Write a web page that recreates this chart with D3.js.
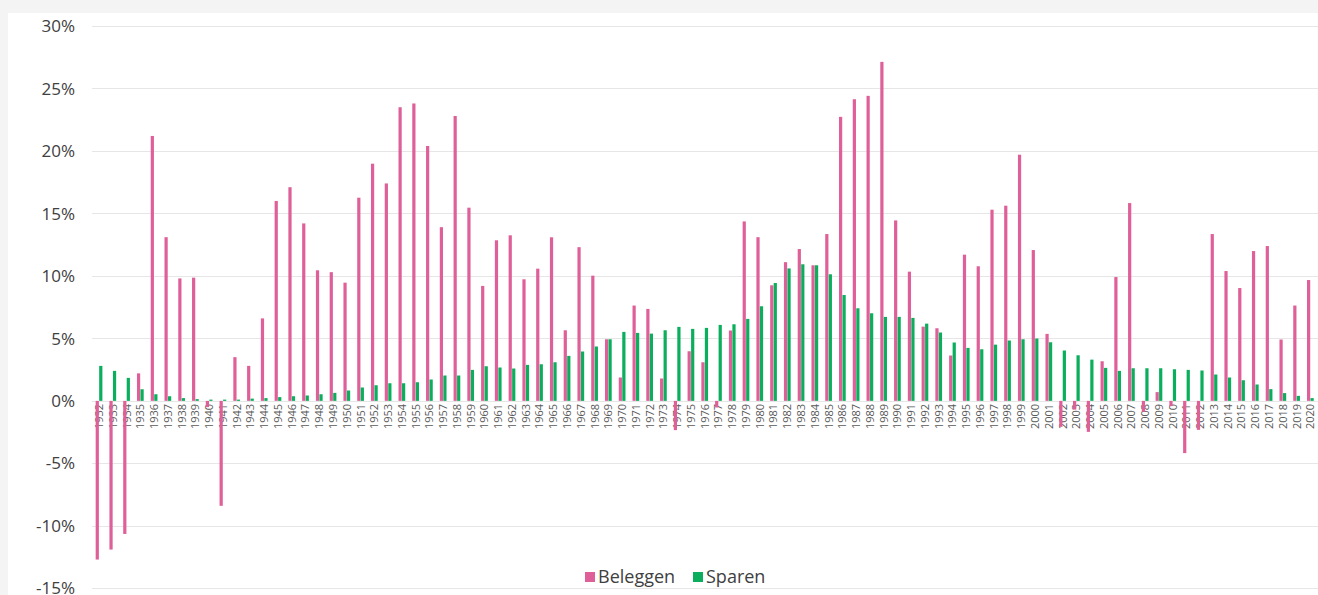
<html>
<head>
<meta charset="utf-8">
<style>
  body { margin: 0; background: #f4f4f4; }
  .grid line { stroke: #e6e6e6; stroke-width: 1px; }
  .ylab { font: 17px "Open Sans", sans-serif; fill: #404040; }
  .xlab { font: 11px "Open Sans", sans-serif; fill: #595959; }
  .leg { font: 18px "Open Sans", sans-serif; fill: #404040; }
</style>
</head>
<body>
<script src="https://cdn.jsdelivr.net/npm/d3@7"></script>
<script>
var years = d3.range(1932, 2021);
var series = ["Beleggen", "Sparen"];
var colors = ["#df6098", "#0aae5c"];
var yTicks = [-15, -10, -5, 0, 5, 10, 15, 20, 25, 30];

// rendement per jaar in %
var beleggen = [
  -12.7, -11.9, -10.65, 2.2, 21.2, 13.1, 9.8, 9.86, -0.5, -8.4,
  3.5, 2.8, 6.6, 16.0, 17.1, 14.2, 10.45, 10.3, 9.46, 16.26,
  18.98, 17.4, 23.5, 23.8, 20.4, 13.9, 22.8, 15.46, 9.2, 12.85,
  13.25, 9.73, 10.58, 13.09, 5.65, 12.3, 10.02, 4.93, 1.87, 7.63,
  7.36, 1.79, -2.34, 3.97, 3.09, -0.53, 5.63, 14.36, 13.1, 9.25,
  11.1, 12.15, 10.85, 13.35, 22.73, 24.14, 24.41, 27.13, 14.44, 10.34,
  5.94, 5.81, 3.63, 11.7, 10.77, 15.3, 15.62, 19.7, 12.07, 5.36,
  -2.08, -0.7, -2.48, 3.17, 9.91, 15.83, -0.88, 0.7, -0.42, -4.18,
  -2.32, 13.35, 10.39, 9.03, 11.99, 12.39, 4.91, 7.63, 9.67
];
var sparen = [
  2.8, 2.4, 1.84, 0.93, 0.53, 0.37, 0.22, 0.14, 0.1, 0.1,
  0.1, 0.18, 0.22, 0.3, 0.37, 0.43, 0.53, 0.64, 0.83, 1.07,
  1.25, 1.41, 1.41, 1.49, 1.71, 2.03, 2.03, 2.48, 2.77, 2.67,
  2.59, 2.88, 2.93, 3.09, 3.6, 3.95, 4.35, 4.93, 5.52, 5.44,
  5.38, 5.65, 5.92, 5.76, 5.84, 6.08, 6.13, 6.56, 7.57, 9.43,
  10.6, 10.93, 10.85, 10.13, 8.47, 7.41, 7.01, 6.72, 6.72, 6.64,
  6.18, 5.47, 4.67, 4.24, 4.13, 4.5, 4.83, 4.93, 4.99, 4.69,
  4.03, 3.65, 3.3, 2.64, 2.4, 2.61, 2.61, 2.61, 2.53, 2.48,
  2.43, 2.11, 1.87, 1.65, 1.31, 0.94, 0.62, 0.4, 0.22
];

var width = 1318, height = 595;
var svg = d3.select("body").append("svg")
    .attr("width", width)
    .attr("height", height)
    .style("display", "block");

// wit paneel
svg.append("rect")
    .attr("x", 8).attr("y", 13)
    .attr("width", width - 8).attr("height", height - 13)
    .attr("fill", "white");

var x = d3.scaleBand().domain(years).range([92.3, 1317.4])
    .paddingInner(0.49).paddingOuter(0.245);
var x1 = d3.scaleBand().domain(series).range([0, x.bandwidth()]);
var y = d3.scaleLinear().domain([-15, 30]).range([588.3, 26]);

svg.append("g").attr("class", "grid")
  .selectAll("line")
  .data(yTicks)
  .join("line")
    .attr("x1", 92).attr("x2", width)
    .attr("y1", d => Math.round(y(d)) + 0.5)
    .attr("y2", d => Math.round(y(d)) + 0.5);

svg.append("g")
  .selectAll("text")
  .data(yTicks)
  .join("text")
    .attr("class", "ylab")
    .attr("x", 75)
    .attr("y", d => y(d))
    .attr("dy", "0.36em")
    .attr("text-anchor", "end")
    .text(d => d + "%");

// jaartallen onder de nullijn
svg.append("g")
  .selectAll("text")
  .data(years)
  .join("text")
    .attr("class", "xlab")
    .attr("transform", d => "translate(" + (x(d) + x.bandwidth() / 2 + 3.8) + "," + (y(0) + 3) + ") rotate(-90)")
    .attr("text-anchor", "end")
    .text(d => d);

var rows = years.map((yr, i) => ({ year: yr, vals: [beleggen[i], sparen[i]] }));

svg.append("g")
  .selectAll("g")
  .data(rows)
  .join("g")
    .attr("transform", d => "translate(" + x(d.year) + ",0)")
  .selectAll("rect")
  .data(d => d.vals.map((v, k) => ({ key: series[k], v: v, k: k })))
  .join("rect")
    .attr("x", d => x1(d.key))
    .attr("width", x1.bandwidth() - 0.3)
    .attr("y", d => y(Math.max(0, d.v)))
    .attr("height", d => Math.abs(y(d.v) - y(0)))
    .attr("fill", d => colors[d.k]);

// legenda
var leg = svg.append("g").attr("transform", "translate(585,577)");
var legX = [0, 108];
series.forEach(function(s, i) {
  var g = leg.append("g").attr("transform", "translate(" + legX[i] + ",0)");
  g.append("rect").attr("x", 0).attr("y", -5).attr("width", 10).attr("height", 10).attr("fill", colors[i]);
  g.append("text").attr("class", "leg").attr("x", 13).attr("y", 0).attr("dy", "0.35em").text(s);
});
</script>
</body>
</html>
